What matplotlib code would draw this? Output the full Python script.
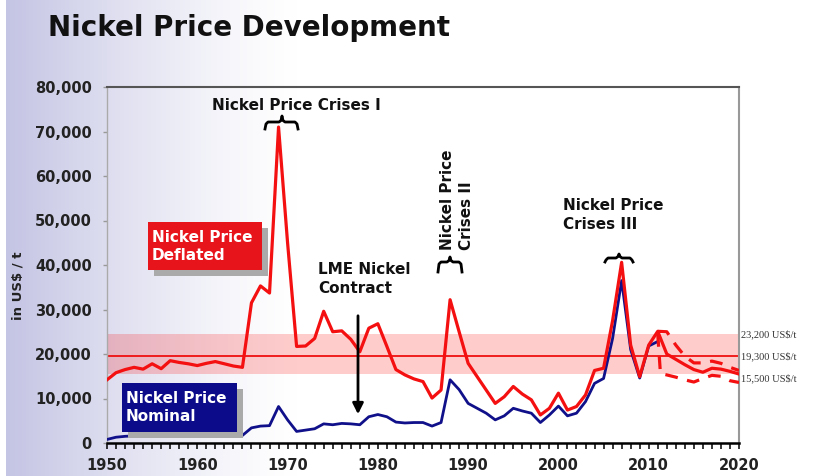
import numpy as np
import matplotlib
matplotlib.use('Agg')
import matplotlib.pyplot as plt
from matplotlib.patches import Rectangle, FancyArrowPatch
from matplotlib.lines import Line2D
from matplotlib.ticker import MultipleLocator, FuncFormatter

plt.rcParams['font.family'] = ['DejaVu Sans']

# nickel price in US$/t
years = np.arange(1950, 2021)
deflated = [14200, 15800, 16500, 17000, 16600, 17800, 16700, 18500, 18100, 17800,
            17400, 17900, 18300, 17800, 17300, 17000, 31500, 35300, 33700, 71000,
            45000, 21700, 21800, 23500, 29600, 25000, 25200, 23300, 20500, 25800,
            26800, 21700, 16500, 15300, 14400, 13800, 10100, 11900, 32200, 25000,
            17900, 14900, 11900, 8900, 10400, 12700, 11000, 9700, 6300, 7800,
            11200, 7400, 8200, 10800, 16300, 16800, 27500, 40600, 22000, 14900,
            22000, 25100, 20000, 18800, 17600, 16500, 15900, 16800, 16600, 16100,
            15500]

nominal_years = np.arange(1950, 2012)
nominal = [800, 1300, 1500, 1600, 1600, 1700, 1800, 1800, 1700, 1700,
           1700, 1700, 1700, 1700, 1700, 1700, 3400, 3800, 3900, 8200,
           5200, 2600, 2900, 3200, 4300, 4100, 4400, 4300, 4100, 5900,
           6400, 5900, 4700, 4500, 4600, 4600, 3800, 4600, 14200, 12000,
           8900, 7800, 6700, 5200, 6100, 7800, 7200, 6700, 4600, 6300,
           8300, 6100, 6700, 9300, 13400, 14500, 23500, 36500, 21000, 14600,
           21800, 22800]

fc_up_years = np.arange(2011, 2021)
fc_up = [25100, 25000, 22000, 19500, 18000, 18000, 18400, 17900, 17000, 16300]
fc_low_years = [2011, 2011.3, 2012, 2013, 2014, 2015, 2016, 2017, 2018, 2019, 2020]
fc_low = [24500, 15600, 15300, 14800, 14200, 13700, 14500, 15200, 15000, 14000, 13600]

band_low, band_mid, band_high = 15500, 19500, 24600
band_labels = ['23,200 US$/t', '19,300 US$/t', '15,500 US$/t']

W, H = 813, 476
fig = plt.figure(figsize=(W / 100, H / 100), dpi=100)

def fx(px):
    return px / W

def fy(py):
    return 1 - py / H

# lavender-to-white background
xs = np.arange(W)
t = np.clip(1 - (xs - 6) / 290, 0, 1) ** 1.3
t[xs < 6] = 0
lav = np.array([196, 196, 228]) / 255
row = 1 - t[:, None] * (1 - lav)
bg = fig.add_axes([0, 0, 1, 1], zorder=-10)
bg.imshow(np.repeat(row[None, :, :], 2, axis=0), aspect='auto', extent=(0, 1, 0, 1))
bg.axis('off')

ax = fig.add_axes([fx(107), fy(443), (739 - 107) / W, (443 - 87) / H])
ax.set_facecolor('none')

ax.axhspan(band_low, band_high, color='red', alpha=0.2, lw=0, zorder=1)
ax.axhline(band_mid, color='#f01010', lw=1.3, zorder=2)

ax.plot(nominal_years, nominal, color='#10108a', lw=2.0, zorder=3)
ax.plot(years, deflated, color='#f41010', lw=2.3, zorder=4)
ax.plot(fc_up_years, fc_up, color='#f41010', lw=2.3, ls=(0, (4, 3)), zorder=4)
ax.plot(fc_low_years, fc_low, color='#f41010', lw=2.3, ls=(0, (4, 3)), zorder=4)

ax.set_xlim(1950, 2020)
ax.set_ylim(0, 80000)
ax.xaxis.set_major_locator(MultipleLocator(10))
ax.xaxis.set_minor_locator(MultipleLocator(1))
ax.yaxis.set_major_locator(MultipleLocator(10000))
ax.yaxis.set_major_formatter(FuncFormatter(lambda v, p: f'{int(v):,}'))

ax.tick_params(axis='x', which='both', direction='out', length=4.5, width=1.1,
               color='black', pad=6)
ax.tick_params(axis='x', which='major', labelsize=10.5, labelcolor='#222222')
ax.tick_params(axis='y', direction='out', length=3, width=1, color='#999999',
               pad=8, labelsize=10.5, labelcolor='#222222')
for lab in ax.get_xticklabels() + ax.get_yticklabels():
    lab.set_fontweight('bold')

ax.spines['top'].set_color('#555555')
ax.spines['top'].set_linewidth(1.5)
ax.spines['right'].set_color('#999999')
ax.spines['right'].set_linewidth(1.5)
ax.spines['left'].set_color('#aaaaaa')
ax.spines['left'].set_linewidth(1)
ax.spines['bottom'].set_color('black')
ax.spines['bottom'].set_linewidth(1.8)

for val, txt in zip([band_high - 300, band_mid, band_low - 900], band_labels):
    ax.text(1.003, val, txt, transform=ax.get_yaxis_transform(), fontsize=7.5,
            family='Liberation Serif', color='#333333', va='center', ha='left')

# title and axis label
fig.text(fx(48), fy(28), 'Nickel Price Development', fontsize=20, weight='bold',
         color='#111111', va='center', ha='left')
fig.text(fx(18), fy(286), 'in US$ / t', rotation=90, fontsize=9.5, weight='bold',
         color='#222222', va='center', ha='center')

# label boxes with drop shadow
def label_box(x0, y0, x1, y1, color, text):
    fig.add_artist(Rectangle((fx(x0 + 6), fy(y1 + 6)), (x1 - x0) / W, (y1 - y0) / H,
                             transform=fig.transFigure, fc='#aaaaaa', ec='none', zorder=4))
    fig.add_artist(Rectangle((fx(x0), fy(y1)), (x1 - x0) / W, (y1 - y0) / H,
                             transform=fig.transFigure, fc=color, ec='none', zorder=5))
    fig.text(fx(x0 + 4), fy((y0 + y1) / 2), text, color='white', weight='bold',
             fontsize=11, va='center', ha='left', linespacing=1.25, zorder=6)

label_box(148, 222, 262, 270, '#e8141c', 'Nickel Price\nDeflated')
label_box(122, 383, 237, 432, '#0c0c8a', 'Nickel Price\nNominal')

# curly braces over the crisis peaks
def brace(x0, x1, xc, ytop, ybar, yend):
    pts = [(x0, yend), (x0 + 1, ybar + 2), (x0 + 3, ybar), (xc - 3, ybar),
           (xc - 1, ybar - 1.5), (xc, ytop), (xc + 1, ybar - 1.5), (xc + 3, ybar),
           (x1 - 3, ybar), (x1 - 1, ybar + 2), (x1, yend)]
    fig.add_artist(Line2D([fx(p[0]) for p in pts], [fy(p[1]) for p in pts],
                          transform=fig.transFigure, color='black', lw=2,
                          solid_joinstyle='round', zorder=6))

brace(265, 298, 282, 116, 122, 129)
brace(438, 462, 450, 257, 262, 272)
brace(605, 633, 619, 254, 258, 262)

ann = dict(fontsize=11, weight='bold', color='#111111', linespacing=1.3)
fig.text(fx(212), fy(105), 'Nickel Price Crises I', va='center', ha='left', **ann)
fig.text(fx(457), fy(250), 'Nickel Price\nCrises II', rotation=90, va='bottom',
         ha='center', multialignment='left', **ann)
fig.text(fx(318), fy(262), 'LME Nickel\nContract', va='top', ha='left', **ann)
fig.text(fx(563), fy(198), 'Nickel Price\nCrises III', va='top', ha='left', **ann)

fig.add_artist(FancyArrowPatch((fx(358), fy(313)), (fx(358), fy(417)),
                               transform=fig.transFigure, arrowstyle='-|>',
                               mutation_scale=16, lw=2, color='black', zorder=6))

fig.savefig('out.png', dpi=100)
